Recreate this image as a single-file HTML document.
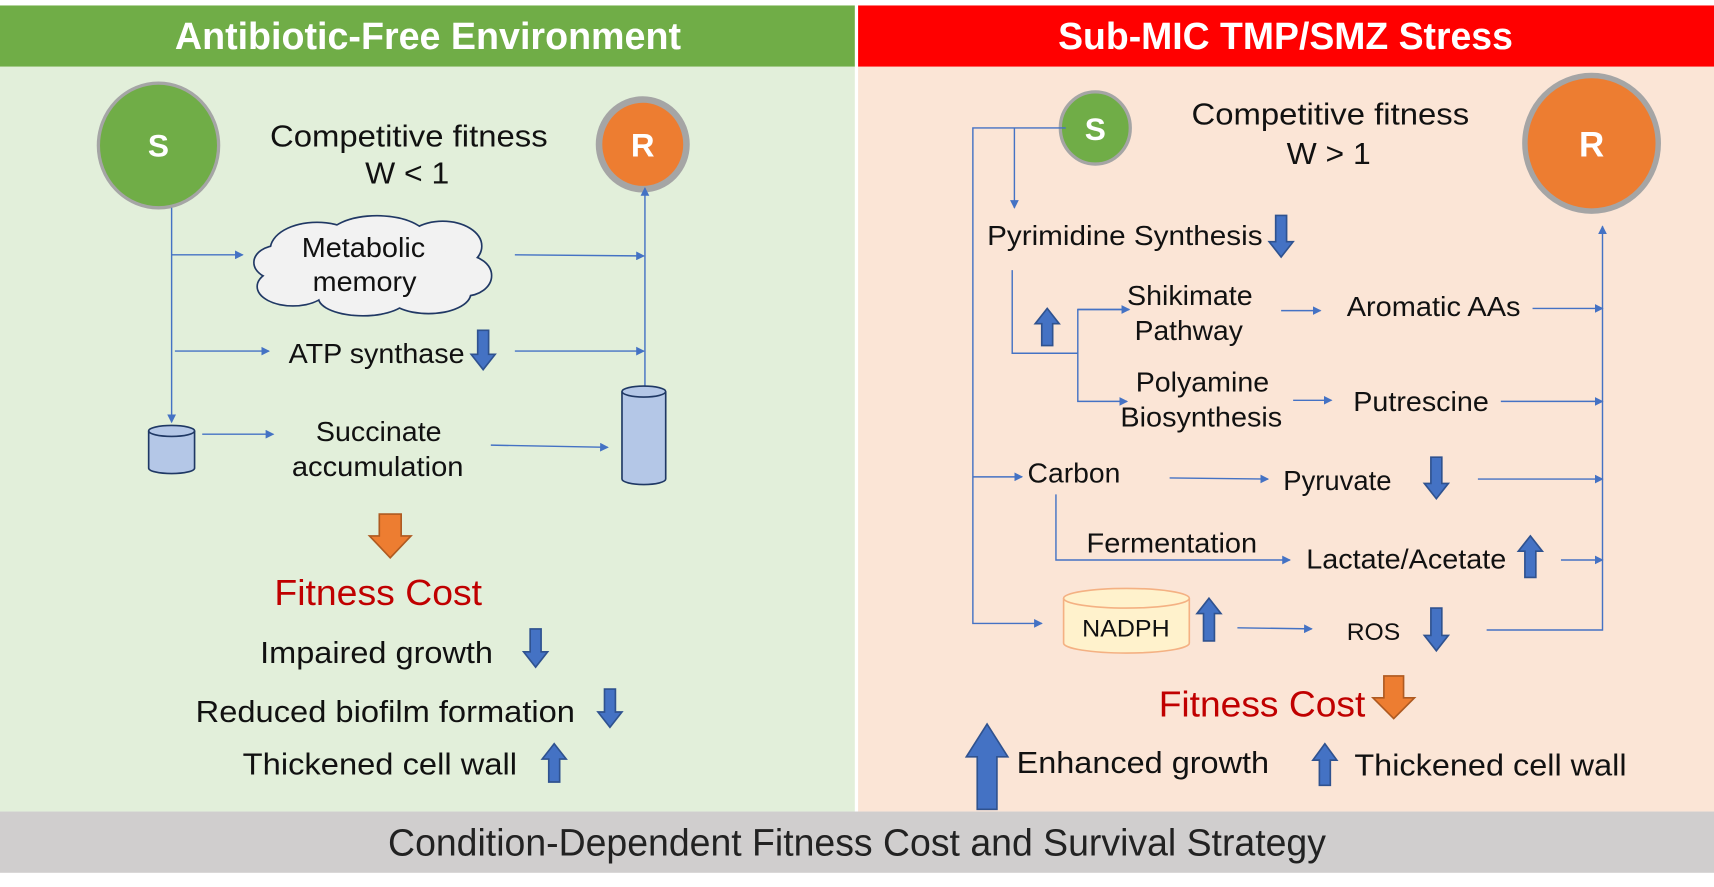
<!DOCTYPE html>
<html><head><meta charset="utf-8"><style>
html,body{margin:0;padding:0;background:#fff;}
svg{display:block;}
text{font-family:"Liberation Sans Narrow","Liberation Sans",Arial,sans-serif;}
</style></head><body>
<svg width="1714" height="887" viewBox="0 0 1568 811" preserveAspectRatio="none" xmlns="http://www.w3.org/2000/svg">
<defs>
<marker id="a" markerWidth="8" markerHeight="8" refX="7" refY="4" orient="auto" markerUnits="userSpaceOnUse"><path d="M0,0 L8,4 L0,8Z" fill="#4472C4"/></marker>
</defs>
<rect width="1568" height="811" fill="#fff"/>
<rect x="0" y="5" width="782" height="56" fill="#70AD47"/>
<rect x="785" y="5" width="783" height="56" fill="#FF0000"/>
<rect x="0" y="61" width="782" height="681" fill="#E2EFDA"/>
<rect x="785" y="61" width="783" height="681" fill="#FBE5D6"/>
<rect x="0" y="742" width="1568" height="56" fill="#D0CECE"/>
<text x="160" y="45" font-size="35" font-weight="bold" fill="#fff" textLength="463" lengthAdjust="spacingAndGlyphs">Antibiotic-Free Environment</text>
<text x="968" y="45" font-size="35" font-weight="bold" fill="#fff" textLength="416" lengthAdjust="spacingAndGlyphs">Sub-MIC TMP/SMZ Stress</text>
<text x="355" y="782" font-size="35" fill="#222" textLength="858" lengthAdjust="spacingAndGlyphs">Condition-Dependent Fitness Cost and Survival Strategy</text>

<!-- LEFT -->
<ellipse cx="145" cy="133" rx="55" ry="57" fill="#70AD47" stroke="#A5A5A5" stroke-width="3"/>
<text x="145" y="143" font-size="29" font-weight="bold" fill="#fff" text-anchor="middle">S</text>
<ellipse cx="588" cy="132" rx="40" ry="41" fill="#ED7D31" stroke="#A5A5A5" stroke-width="6"/>
<text x="588" y="143" font-size="30" font-weight="bold" fill="#fff" text-anchor="middle">R</text>
<text x="247" y="134" font-size="28" fill="#111" textLength="254" lengthAdjust="spacingAndGlyphs">Competitive  fitness</text>
<text x="334" y="168" font-size="28" fill="#111" textLength="77" lengthAdjust="spacingAndGlyphs">W &lt; 1</text>

<g fill="none" stroke="#4472C4" stroke-width="1.3">
<line x1="157" y1="190" x2="157" y2="386" marker-end="url(#a)"/>
<line x1="157" y1="233" x2="222" y2="233" marker-end="url(#a)"/>
<line x1="160" y1="321" x2="246" y2="321" marker-end="url(#a)"/>
<line x1="471" y1="233" x2="589" y2="234" marker-end="url(#a)"/>
<line x1="471" y1="321" x2="589" y2="321" marker-end="url(#a)"/>
<line x1="590" y1="354" x2="590" y2="172" marker-end="url(#a)"/>
<line x1="185" y1="397" x2="250" y2="397" marker-end="url(#a)"/>
<line x1="449" y1="407" x2="556" y2="409" marker-end="url(#a)"/>
</g>
<g fill="#F2F2F2" stroke="#203864" stroke-width="3">
<ellipse cx="290" cy="228" rx="42" ry="24"/><ellipse cx="345" cy="218" rx="45" ry="20"/><ellipse cx="405" cy="225" rx="35" ry="22"/>
<ellipse cx="425" cy="252" rx="24" ry="18"/><ellipse cx="392" cy="268" rx="38" ry="18"/><ellipse cx="332" cy="272" rx="40" ry="16"/>
<ellipse cx="268" cy="262" rx="32" ry="17"/><ellipse cx="255" cy="240" rx="22" ry="15"/>
</g>
<g fill="#F2F2F2">
<ellipse cx="290" cy="228" rx="42" ry="24"/><ellipse cx="345" cy="218" rx="45" ry="20"/><ellipse cx="405" cy="225" rx="35" ry="22"/>
<ellipse cx="425" cy="252" rx="24" ry="18"/><ellipse cx="392" cy="268" rx="38" ry="18"/><ellipse cx="332" cy="272" rx="40" ry="16"/>
<ellipse cx="268" cy="262" rx="32" ry="17"/><ellipse cx="255" cy="240" rx="22" ry="15"/><ellipse cx="340" cy="245" rx="80" ry="28"/>
</g>
<text x="276" y="235" font-size="25" fill="#111" textLength="113" lengthAdjust="spacingAndGlyphs">Metabolic</text>
<text x="286" y="266" font-size="25" fill="#111" textLength="95" lengthAdjust="spacingAndGlyphs">memory</text>
<text x="264" y="332" font-size="25" fill="#111" textLength="161" lengthAdjust="spacingAndGlyphs">ATP synthase</text>
<text x="289" y="403" font-size="25" fill="#111" textLength="115" lengthAdjust="spacingAndGlyphs">Succinate</text>
<text x="267" y="435" font-size="25" fill="#111" textLength="157" lengthAdjust="spacingAndGlyphs">accumulation</text>
<g fill="#B4C7E7" stroke="#1F3864" stroke-width="1.5">
<path d="M136,394 L136,428 A21,5 0 0 0 178,428 L178,394"/>
<ellipse cx="157" cy="394" rx="21" ry="5"/>
<path d="M569,358 L569,438 A20,5 0 0 0 609,438 L609,358"/>
<ellipse cx="589" cy="358" rx="20" ry="5"/>
</g>
<path d="M347,470 L367,470 L367,490 L376,490 L357,510 L338,490 L347,490Z" fill="#ED7D31" stroke="#AE5A21" stroke-width="1.5"/>
<text x="251" y="553" font-size="33" fill="#C00000" textLength="190" lengthAdjust="spacingAndGlyphs">Fitness Cost</text>
<text x="238" y="606" font-size="28" fill="#111" textLength="213" lengthAdjust="spacingAndGlyphs">Impaired  growth</text>
<text x="179" y="660" font-size="28" fill="#111" textLength="347" lengthAdjust="spacingAndGlyphs">Reduced  biofilm  formation</text>
<text x="222" y="708" font-size="28" fill="#111" textLength="251" lengthAdjust="spacingAndGlyphs">Thickened  cell  wall</text>
<g fill="#4472C4" stroke="#2F528F" stroke-width="1.5">
<path d="M437,302 L447,302 L447,324 L453,324 L442,338 L431,324 L437,324Z"/>
<path d="M485,575 L495,575 L495,596 L501,596 L490,610 L479,596 L485,596Z"/>
<path d="M553,630 L563,630 L563,651 L569,651 L558,665 L547,651 L553,651Z"/>
<path d="M507,680 L518,694 L512,694 L512,715 L502,715 L502,694 L496,694Z"/>
</g>

<!-- RIGHT -->
<ellipse cx="1002" cy="117" rx="32" ry="33" fill="#70AD47" stroke="#A5A5A5" stroke-width="3"/>
<text x="1002" y="128" font-size="29" font-weight="bold" fill="#fff" text-anchor="middle">S</text>
<ellipse cx="1456" cy="131" rx="61" ry="62" fill="#ED7D31" stroke="#A5A5A5" stroke-width="5"/>
<text x="1456" y="143" font-size="32" font-weight="bold" fill="#fff" text-anchor="middle">R</text>
<text x="1090" y="114" font-size="28" fill="#111" textLength="254" lengthAdjust="spacingAndGlyphs">Competitive  fitness</text>
<text x="1177" y="150" font-size="28" fill="#111" textLength="77" lengthAdjust="spacingAndGlyphs">W &gt; 1</text>

<g fill="none" stroke="#4472C4" stroke-width="1.3">
<polyline points="975,117 890,117 890,570 953,570" marker-end="url(#a)"/>
<line x1="928" y1="117" x2="928" y2="190" marker-end="url(#a)"/>
<line x1="890" y1="436" x2="935" y2="436" marker-end="url(#a)"/>
<polyline points="926,247 926,323 986,323"/>
<polyline points="1033,283 986,283 986,367 1031,367" marker-end="url(#a)"/>
<line x1="986" y1="283" x2="1033" y2="283" marker-end="url(#a)"/>
<line x1="1172" y1="284" x2="1208" y2="284" marker-end="url(#a)"/>
<line x1="1402" y1="282" x2="1466" y2="282" marker-end="url(#a)"/>
<line x1="1183" y1="366" x2="1218" y2="366" marker-end="url(#a)"/>
<line x1="1373" y1="367" x2="1466" y2="367" marker-end="url(#a)"/>
<line x1="1070" y1="437" x2="1160" y2="438" marker-end="url(#a)"/>
<line x1="1352" y1="438" x2="1466" y2="438" marker-end="url(#a)"/>
<polyline points="966,452 966,512 1180,512" marker-end="url(#a)"/>
<line x1="1428" y1="512" x2="1466" y2="512" marker-end="url(#a)"/>
<line x1="1132" y1="574" x2="1200" y2="575" marker-end="url(#a)"/>
<polyline points="1360,576 1466,576 1466,207" marker-end="url(#a)"/>
</g>
<text x="903" y="224" font-size="25" fill="#111" textLength="252" lengthAdjust="spacingAndGlyphs">Pyrimidine  Synthesis</text>
<text x="1031" y="279" font-size="25" fill="#111" textLength="115" lengthAdjust="spacingAndGlyphs">Shikimate</text>
<text x="1038" y="311" font-size="25" fill="#111" textLength="99" lengthAdjust="spacingAndGlyphs">Pathway</text>
<text x="1232" y="289" font-size="25" fill="#111" textLength="159" lengthAdjust="spacingAndGlyphs">Aromatic AAs</text>
<text x="1039" y="358" font-size="25" fill="#111" textLength="122" lengthAdjust="spacingAndGlyphs">Polyamine</text>
<text x="1025" y="390" font-size="25" fill="#111" textLength="148" lengthAdjust="spacingAndGlyphs">Biosynthesis</text>
<text x="1238" y="376" font-size="25" fill="#111" textLength="124" lengthAdjust="spacingAndGlyphs">Putrescine</text>
<text x="940" y="441" font-size="25" fill="#111" textLength="85" lengthAdjust="spacingAndGlyphs">Carbon</text>
<text x="1174" y="448" font-size="25" fill="#111" textLength="99" lengthAdjust="spacingAndGlyphs">Pyruvate</text>
<text x="994" y="505" font-size="25" fill="#111" textLength="156" lengthAdjust="spacingAndGlyphs">Fermentation</text>
<text x="1195" y="520" font-size="25" fill="#111" textLength="183" lengthAdjust="spacingAndGlyphs">Lactate/Acetate</text>
<g fill="#FFF2CC" stroke="#F4B183" stroke-width="1.5">
<path d="M973,547 L973,588 A57,9 0 0 0 1088,588 L1088,547"/>
<ellipse cx="1030.5" cy="547" rx="57.5" ry="9"/>
</g>
<text x="990" y="582" font-size="22" fill="#111" textLength="80" lengthAdjust="spacingAndGlyphs">NADPH</text>
<text x="1232" y="585" font-size="22" fill="#111" textLength="49" lengthAdjust="spacingAndGlyphs">ROS</text>
<path d="M1266,618 L1284,618 L1284,638 L1294,638 L1275,657 L1256,638 L1266,638Z" fill="#ED7D31" stroke="#AE5A21" stroke-width="1.5"/>
<text x="1060" y="655" font-size="33" fill="#C00000" textLength="189" lengthAdjust="spacingAndGlyphs">Fitness Cost</text>
<text x="930" y="707" font-size="28" fill="#111" textLength="231" lengthAdjust="spacingAndGlyphs">Enhanced  growth</text>
<text x="1239" y="709" font-size="28" fill="#111" textLength="249" lengthAdjust="spacingAndGlyphs">Thickened  cell  wall</text>
<g fill="#4472C4" stroke="#2F528F" stroke-width="1.5">
<path d="M1167,197 L1177,197 L1177,221 L1183,221 L1172,235 L1161,221 L1167,221Z"/>
<path d="M958,282 L969,296 L963,296 L963,316 L953,316 L953,296 L947,296Z"/>
<path d="M1309,418 L1319,418 L1319,442 L1325,442 L1314,456 L1303,442 L1309,442Z"/>
<path d="M1400,490 L1411,504 L1405,504 L1405,528 L1395,528 L1395,504 L1389,504Z"/>
<path d="M1106,547 L1117,561 L1111,561 L1111,586 L1101,586 L1101,561 L1095,561Z"/>
<path d="M1309,556 L1319,556 L1319,581 L1325,581 L1314,595 L1303,581 L1309,581Z"/>
<path d="M903,662 L922,692 L912,692 L912,740 L894,740 L894,692 L884,692Z"/>
<path d="M1212,680 L1223,695 L1217,695 L1217,718 L1207,718 L1207,695 L1201,695Z"/>
</g>
</svg>
</body></html>
